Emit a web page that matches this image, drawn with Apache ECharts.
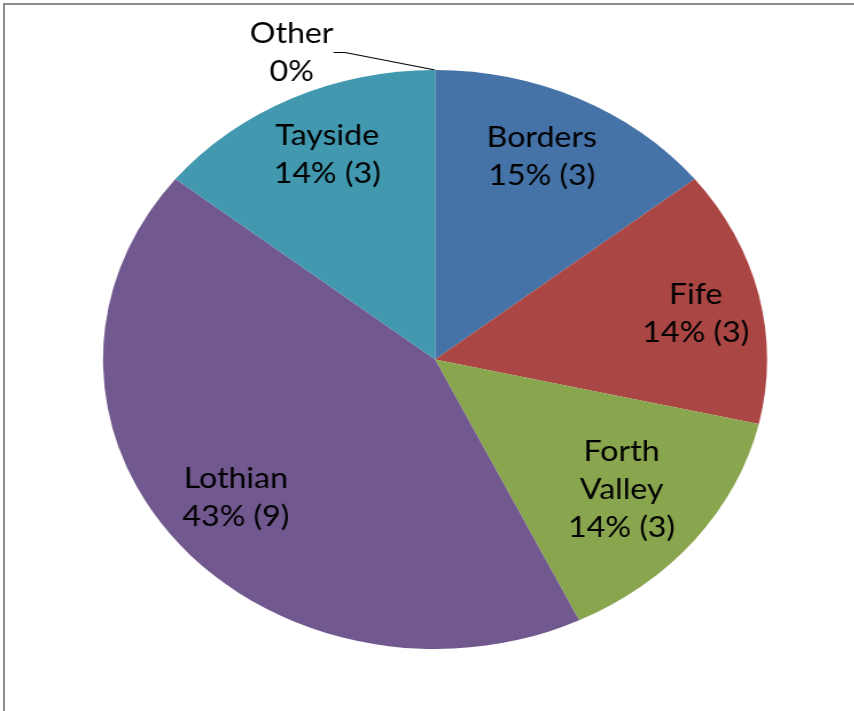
<!DOCTYPE html>
<html>
<head>
<meta charset="utf-8">
<script src="https://cdn.jsdelivr.net/npm/echarts@6/dist/echarts.min.js"></script>
<style>
  html, body { margin: 0; padding: 0; background: #fff; overflow: hidden; }
  /* The chart is drawn round, then widened so the pie becomes an ellipse */
  #chart {
    position: absolute; left: 0; top: 0;
    width: 744.5px; height: 711px;
    transform: scaleX(1.147); transform-origin: 0 0;
  }
  #frame {
    position: absolute; left: 3px; top: 3px;
    width: 851px; height: 708px;
    border-left: 2px solid #8c8c8c; border-top: 2px solid #8c8c8c;
    pointer-events: none;
  }
</style>
</head>
<body>
<div id="chart"></div>
<div id="frame"></div>
<script>
// Health board regions and their counts
const regions = ['Borders', 'Fife', 'Forth Valley', 'Lothian', 'Tayside', 'Other'];
const counts = [3, 3, 3, 9, 3, 0];
const sliceColors = ['#4572A7', '#AA4643', '#89A54E', '#71588F', '#4198AF', '#4F81BD'];

// Geometry (in the unstretched drawing space)
const CX = 379.3, CY = 359.5, R = 289.5;

// small per-label nudges so taller labels sit a little further in
const labelNudge = {
  'Borders': [-5, 1],
  'Fife': [7, 5],
  'Forth Valley': [-14, -10],
  'Lothian': [3, -2],
  'Tayside': [4, -1]
};

const textStyle = {
  color: '#000',
  fontFamily: 'Lato, "Open Sans", sans-serif',
  fontSize: 28,
  lineHeight: 38
};

const chart = echarts.init(document.getElementById('chart'), null, { renderer: 'canvas' });

chart.setOption({
  animation: false,
  series: [
    {
      // coloured slices; only an empty slice gets an outside label
      type: 'pie',
      center: [CX, CY],
      radius: [0, R],
      startAngle: 90,
      clockwise: true,
      avoidLabelOverlap: false,
      percentPrecision: 0,
      silent: true,
      emphasis: { disabled: true },
      itemStyle: { borderWidth: 0 },
      data: regions.map((name, i) => ({
        name: name,
        value: counts[i],
        itemStyle: { color: sliceColors[i] },
        label: { show: counts[i] === 0 },
        labelLine: { show: counts[i] === 0 }
      })),
      label: Object.assign({
        position: 'outside',
        align: 'center',
        formatter: '{b}\n{d}%'
      }, textStyle),
      labelLine: {
        length: 10,
        length2: 10,
        lineStyle: { color: '#000', width: 1.2 }
      },
      labelLayout: function (p) {
        if (counts[p.dataIndex] === 0) {
          return { x: CX - 125, y: CY - 307, align: 'center', verticalAlign: 'middle' };
        }
        return {};
      }
    },
    {
      // transparent ring that carries the inside labels further out
      type: 'pie',
      center: [CX, CY],
      radius: [R * 0.54, R],
      startAngle: 90,
      clockwise: true,
      avoidLabelOverlap: false,
      percentPrecision: 0,
      silent: true,
      emphasis: { disabled: true },
      itemStyle: { color: 'rgba(0,0,0,0)', borderWidth: 0 },
      data: regions.map((name, i) => ({
        name: name,
        value: counts[i],
        label: { show: counts[i] > 0 }
      })),
      label: Object.assign({
        position: 'inside',
        align: 'center',
        formatter: function (p) {
          return p.name.replace(' ', '\n') + '\n' + p.percent + '% (' + p.value + ')';
        }
      }, textStyle),
      labelLine: { show: false },
      labelLayout: function (p) {
        const n = labelNudge[regions[p.dataIndex]];
        return n ? { dx: n[0], dy: n[1] } : {};
      }
    }
  ]
});
</script>
</body>
</html>
